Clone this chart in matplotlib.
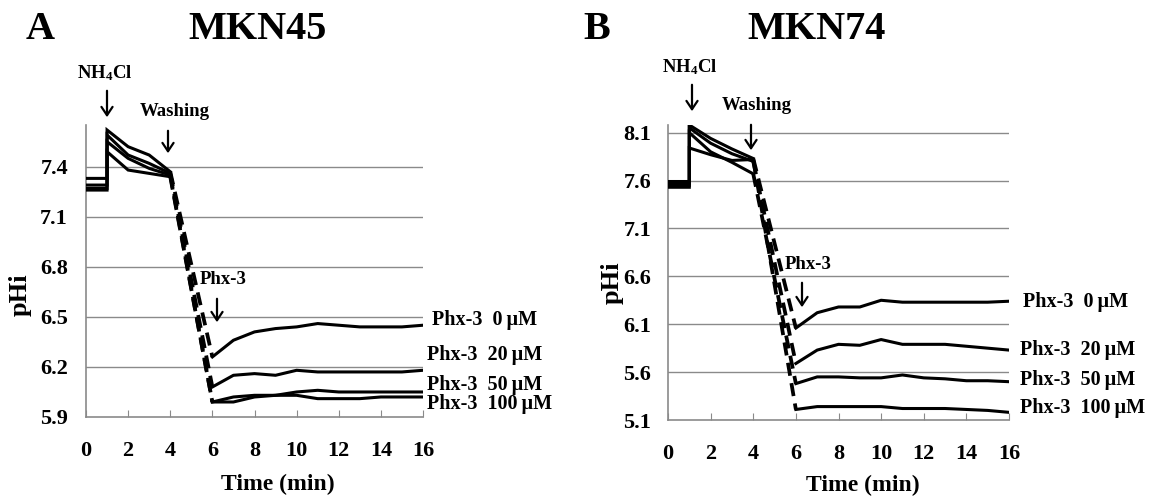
import matplotlib
matplotlib.use("Agg")
import matplotlib.pyplot as plt

plt.rcParams['font.family'] = ['Liberation Serif', 'DejaVu Serif']
plt.rcParams['font.weight'] = 'bold'
plt.rcParams['mathtext.fontset'] = 'custom'
plt.rcParams['mathtext.rm'] = 'Liberation Serif:bold'
plt.rcParams['mathtext.bf'] = 'Liberation Serif:bold'
plt.rcParams['mathtext.it'] = 'Liberation Serif:bold'

# ---------------- data ----------------
time_pre = [0, 1, 1, 2, 3, 4]
time_post = [6, 7, 8, 9, 10, 11, 12, 13, 14, 15, 16]
concentrations = ["0", "20", "50", "100"]

# MKN45
a_pre_0 = [7.27, 7.27, 7.62, 7.52, 7.47, 7.37]
a_pre_20 = [7.33, 7.33, 7.59, 7.47, 7.42, 7.36]
a_pre_50 = [7.29, 7.29, 7.55, 7.45, 7.39, 7.35]
a_pre_100 = [7.26, 7.26, 7.49, 7.38, 7.36, 7.34]
a_post_0 = [6.26, 6.36, 6.41, 6.43, 6.44, 6.46, 6.45, 6.44, 6.44, 6.44, 6.45]
a_post_20 = [6.08, 6.15, 6.16, 6.15, 6.18, 6.17, 6.17, 6.17, 6.17, 6.17, 6.18]
a_post_50 = [5.99, 6.02, 6.03, 6.03, 6.05, 6.06, 6.05, 6.05, 6.05, 6.05, 6.05]
a_post_100 = [5.99, 5.99, 6.02, 6.03, 6.03, 6.01, 6.01, 6.01, 6.02, 6.02, 6.02]

# MKN74
b_pre_0 = [7.59, 7.59, 8.18, 8.04, 7.93, 7.83]
b_pre_20 = [7.57, 7.57, 8.15, 7.99, 7.88, 7.80]
b_pre_50 = [7.55, 7.55, 8.10, 7.90, 7.79, 7.67]
b_pre_100 = [7.53, 7.53, 7.94, 7.87, 7.81, 7.82]
b_post_0 = [6.06, 6.22, 6.28, 6.28, 6.35, 6.33, 6.33, 6.33, 6.33, 6.33, 6.34]
b_post_20 = [5.69, 5.83, 5.89, 5.88, 5.94, 5.89, 5.89, 5.89, 5.87, 5.85, 5.83]
b_post_50 = [5.48, 5.55, 5.55, 5.54, 5.54, 5.57, 5.54, 5.53, 5.51, 5.51, 5.50]
b_post_100 = [5.21, 5.24, 5.24, 5.24, 5.24, 5.22, 5.22, 5.22, 5.21, 5.20, 5.18]

a_yticks = [5.9, 6.2, 6.5, 6.8, 7.1, 7.4]
b_yticks = [5.1, 5.6, 6.1, 6.6, 7.1, 7.6, 8.1]
xticks = [0, 2, 4, 6, 8, 10, 12, 14, 16]

W, H = 1151, 498
fig = plt.figure(figsize=(W / 100, H / 100), dpi=100)

def px(x0, y_top, x1, y_bot):
    return [x0 / W, 1 - y_bot / H, (x1 - x0) / W, (y_bot - y_top) / H]

grid_c = '#8a8a8a'

def draw_panel(rect, pres, posts, yticks, ylim, letter, letter_x, title, title_x,
               label_pos, ann, ylab_xy, xlab_xy, ypad):
    ax = fig.add_axes(rect)
    ax.set_xlim(0, 16)
    ax.set_ylim(*ylim)
    for y in yticks[1:]:
        ax.axhline(y, color=grid_c, lw=1.0, zorder=0)
    for s in ['top', 'right']:
        ax.spines[s].set_visible(False)
    for s in ['left', 'bottom']:
        ax.spines[s].set_color(grid_c)
        ax.spines[s].set_linewidth(1.2)
    ax.set_xticks(xticks)
    ax.set_yticks(yticks)
    ax.set_yticklabels([f"{v:.1f}" for v in yticks])
    ax.tick_params(axis='x', direction='in', length=5, color=grid_c, labelsize=16, pad=17)
    ax.tick_params(axis='y', length=0, labelsize=16, pad=ypad)
    for lab in ax.get_xticklabels() + ax.get_yticklabels():
        lab.set_fontweight('bold')
    for pre, post in zip(pres, posts):
        ax.plot(time_pre, pre, color='black', lw=2.2, solid_joinstyle='miter', zorder=3)
        ax.plot([time_pre[-1], time_post[0]], [pre[-1], post[0]], color='black',
                lw=2.7, dashes=(3.5, 2.0), zorder=3)
        ax.plot(time_post, post, color='black', lw=2.2, zorder=3)
    ax.set_ylabel('pHi', fontsize=19, fontweight='bold')
    ax.set_xlabel('Time (min)', fontsize=17, fontweight='bold')
    ax.xaxis.set_label_coords(*xlab_xy)
    ax.yaxis.set_label_coords(*ylab_xy)
    for conc, (lx, ly) in zip(concentrations, label_pos):
        fig.text(lx / W, 1 - ly / H, f"Phx-3  {conc}\u2009\u00b5M", fontsize=14.5,
                 fontweight='bold', va='center', ha='left')
    for text, tx, ty, ax_x, ay0, ay1 in ann:
        fig.text(tx / W, 1 - ty / H, text, fontsize=13.5, fontweight='bold',
                 ha='center', va='center')
        fig.patches.append(matplotlib.patches.FancyArrowPatch(
            (ax_x / W, 1 - ay0 / H), (ax_x / W, 1 - ay1 / H),
            transform=fig.transFigure, arrowstyle='->,head_length=6,head_width=4',
            mutation_scale=1, lw=1.6, color='black'))
    fig.text(letter_x / W, 1 - 29 / H, letter, fontsize=29, fontweight='bold',
             ha='center', va='center')
    fig.text(title_x / W, 1 - 29 / H, title, fontsize=29, fontweight='bold',
             ha='center', va='center')
    return ax

draw_panel(px(86, 125, 423, 417),
           [a_pre_0, a_pre_20, a_pre_50, a_pre_100],
           [a_post_0, a_post_20, a_post_50, a_post_100],
           a_yticks, (5.9, 7.65), 'A', 40, 'MKN45', 258,
           [(432, 320), (427, 355), (427, 385), (427, 404)],
           [(r'NH$_{4}$Cl', 105, 73, 107, 88, 120),
            ('Washing', 175, 111, 168, 128, 156),
            ('Phx-3', 223, 280, 217, 296, 325)],
           (-0.16, 0.418), (0.57, -0.195), 13)

draw_panel(px(668, 125, 1009, 420),
           [b_pre_0, b_pre_20, b_pre_50, b_pre_100],
           [b_post_0, b_post_20, b_post_50, b_post_100],
           b_yticks, (5.1, 8.18), 'B', 597, 'MKN74', 817,
           [(1023, 302), (1020, 350), (1020, 380), (1020, 408)],
           [(r'NH$_{4}$Cl', 690, 67, 692, 82, 114),
            ('Washing', 757, 106, 751, 122, 153),
            ('Phx-3', 808, 264, 802, 280, 310)],
           (-0.13, 0.464), (0.57, -0.185), 12)

fig.savefig('out.png', dpi=100)
